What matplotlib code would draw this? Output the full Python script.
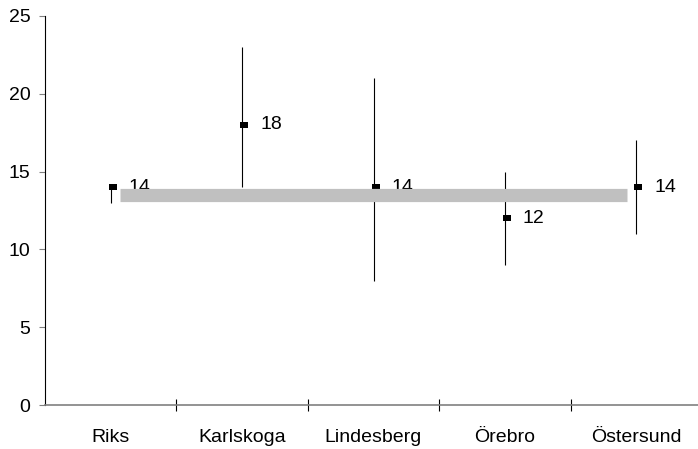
import numpy as np
import matplotlib
matplotlib.use("Agg")
import matplotlib.pyplot as plt

plt.rcParams['font.family'] = ['Liberation Sans', 'DejaVu Sans']

# data
places = ['Riks', 'Karlskoga', 'Lindesberg', 'Örebro', 'Östersund']
values = [14, 18, 14, 12, 14]
low = [13, 14, 8, 9, 11]
high = [14, 23, 21, 15, 17]
riks_level = 13.5

fig = plt.figure(figsize=(6.98, 4.49), dpi=100)
# plot area runs slightly past the right edge, like the original
ax = fig.add_axes([45 / 698, 1 - 405 / 449, (702 - 45) / 698, (405 - 16) / 449])

x = np.arange(len(places))

# vertical range lines
ax.vlines(x, low, high, color='black', lw=0.8, zorder=2)
# value markers: small flat rectangles
rect = [(-1, -0.72), (1, -0.72), (1, 0.72), (-1, 0.72), (-1, -0.72)]
ax.plot(x + 0.016, values, linestyle='none', marker=rect, color='black',
        ms=5.6, mew=0, zorder=3)
for xi, v in zip(x, values):
    ax.annotate(str(v), (xi, v), xytext=(13, 0), textcoords='offset points',
                va='center', ha='left', fontsize=14, zorder=3)

# gray reference line drawn on top
ax.hlines(riks_level, x[0] + 0.07, x[-1] - 0.07, color='#c0c0c0', lw=9.5,
          zorder=4)

ax.set_xlim(-0.5, len(places) - 0.5)
ax.set_ylim(0, 25)
ax.set_yticks(range(0, 26, 5))
ax.set_xticks(x)
ax.set_xticklabels(places)
ax.set_xticks(np.arange(0.5, len(places) - 0.5, 1), minor=True)

ax.spines['top'].set_visible(False)
ax.spines['right'].set_visible(False)
ax.spines['left'].set_color('black')
ax.spines['left'].set_linewidth(0.8)
ax.spines['bottom'].set_color('#808080')
ax.spines['bottom'].set_linewidth(1.2)

ax.tick_params(axis='y', direction='out', length=4.5, width=0.8,
               color='#808080', labelsize=14, pad=6)
ax.tick_params(axis='x', which='major', length=0, labelsize=14, pad=17)
ax.tick_params(axis='x', which='minor', direction='inout', length=9,
               width=0.8, color='black')

fig.savefig('out.png', dpi=100)
